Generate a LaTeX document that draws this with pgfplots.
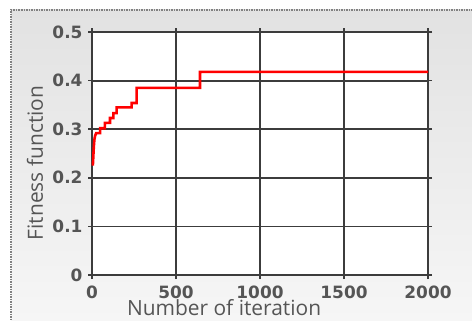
\documentclass[border=0pt]{standalone}
\usepackage{pgfplots}
\pgfplotsset{compat=1.18}
\usepackage{fontspec}
\setmainfont{DejaVu Sans}
\newfontfamily\labelfont{Open Sans}
\definecolor{gridc}{HTML}{3C3C3C}
\definecolor{tickc}{HTML}{555555}
\definecolor{labc}{HTML}{555555}
\begin{document}
\begin{tikzpicture}[x=1bp,y=1bp]
\useasboundingbox (0,0) rectangle (472,320);
\fill[white] (0,0) rectangle (472,320);
\shade[top color={rgb,255:red,226;green,226;blue,226}, bottom color={rgb,255:red,246;green,246;blue,246}] (11,0) rectangle (472,310);
\draw[gray, line width=1.2bp, dash pattern=on 1.5bp off 1bp] (11,0) -- (11,310) -- (472,310);
\begin{axis}[
  at={(92bp,45bp)}, anchor=south west,
  scale only axis, width=336bp, height=243bp,
  xmin=0, xmax=2000, ymin=0, ymax=0.5,
  xtick={0,500,1000,1500,2000},
  ytick={0,0.1,0.2,0.3,0.4,0.5},
  yticklabels={0,0.1,0.2,0.3,0.4,0.5},
  xticklabels={0,500,1000,1500,2000},
  grid=major,
  grid style={gridc, line width=1.8bp},
  axis line style={gridc, line width=1.8bp},
  axis background/.style={fill=white},
  tick align=outside,
  major tick length=4bp,
  tick style={gridc, line width=1.5bp},
  /pgf/number format/assume math mode=true,
  ticklabel style={font=\bfseries\fontsize{17}{18}\selectfont, text=tickc},
  yticklabel style={xshift=-2bp},
  xticklabel style={yshift=-3bp},
  xlabel={Number of iteration},
  ylabel={Fitness function},
  xlabel style={font=\labelfont\fontsize{21}{24}\selectfont, text=labc, at={(axis description cs:0.393,-0.168)}, anchor=base},
  ylabel style={font=\labelfont\fontsize{21}{24}\selectfont, text=labc, at={(axis description cs:-0.146,0.461)}, anchor=base, rotate=0},
  clip=false,
]
\addplot[red, line width=2.6bp, line join=miter] coordinates {
(5,0.225) (8,0.245) (11,0.265) (14,0.278) (18,0.286) (25,0.292)
(48,0.292) (48,0.302) (77,0.302) (77,0.313) (107,0.313) (107,0.323)
(127,0.323) (127,0.333) (147,0.333) (147,0.345) (236,0.345) (236,0.354)
(266,0.354) (266,0.385) (643,0.385) (643,0.418) (2000,0.418)
};
\end{axis}
\end{tikzpicture}
\end{document}
